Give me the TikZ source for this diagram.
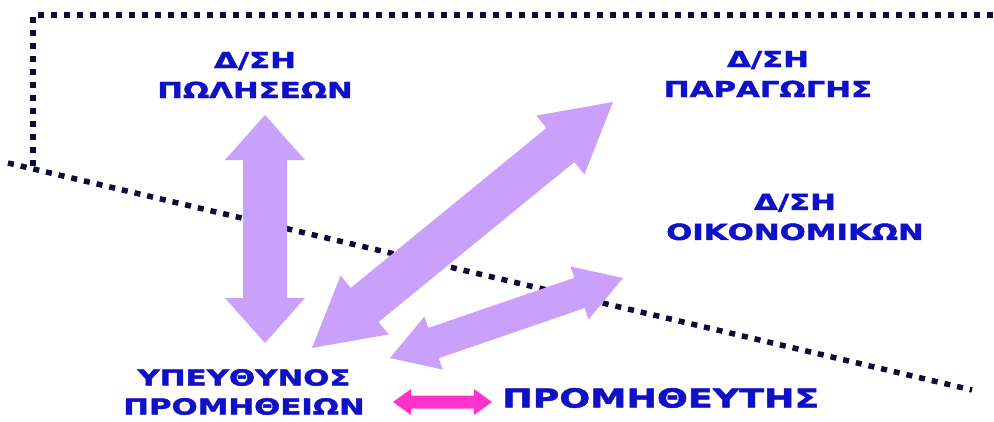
\documentclass[tikz,border=0pt]{standalone}
\usepackage{fontspec}
\setmainfont{DejaVu Sans}[FakeStretch=1.4, FakeBold=2]
\usetikzlibrary{calc}
\definecolor{lav}{RGB}{201,160,250}
\definecolor{pinkarr}{RGB}{255,51,204}
\definecolor{txtblue}{RGB}{16,16,200}
\definecolor{navy}{RGB}{12,12,56}
% #1 style, #2 tip A, #3 tip B, #4 head length, #5 head half width, #6 shaft half width
\newcommand\dblarr[6]{%
  \coordinate (pa) at ($(#2)!#4!(#3)$);
  \coordinate (pb) at ($(#3)!#4!(#2)$);
  \fill[#1] (#2) -- ($(pa)!#5!90:(#3)$) -- ($(pa)!#6!90:(#3)$)
    -- ($(pb)!#6!-90:(#2)$) -- ($(pb)!#5!-90:(#2)$) -- (#3)
    -- ($(pb)!#5!90:(#2)$) -- ($(pb)!#6!90:(#2)$)
    -- ($(pa)!#6!-90:(#3)$) -- ($(pa)!#5!-90:(#3)$) -- cycle;
}
\begin{document}
\begin{tikzpicture}[x=1pt,y=-1pt,
  lbl/.style={inner sep=0pt, align=center, text=txtblue,
    font=\bfseries\fontsize{22}{30}\selectfont},
  mgr/.style={lbl, font=\bfseries\fontsize{22}{29}\selectfont},
  sup/.style={lbl, font=\bfseries\fontsize{26}{30}\selectfont},
  dots/.style={draw=navy, line width=5.5pt, dash pattern=on 6pt off 7pt},
  lavarr/.style={fill=lav},
  pinkfill/.style={fill=pinkarr}
]
\useasboundingbox (0,0) rectangle (994,421);
\fill[white] (0,0) rectangle (994,421);

% dotted boundary lines
\coordinate (c1) at (33,15);
\coordinate (c2) at (993,15);
\coordinate (c3) at (33,166);
\coordinate (d1) at (8,163);
\coordinate (d2) at (972,390);
\draw[dots] (c2) -- (c1) -- (c3);
\draw[dots] (d1) -- (d2);

% arrow end points
\coordinate (v1) at (265,115);
\coordinate (v2) at (265,343);
\coordinate (p1) at (613,102);
\coordinate (p2) at (312,348);
\coordinate (f1) at (623,278);
\coordinate (f2) at (390,358);
\coordinate (s1) at (393,402);
\coordinate (s2) at (492,402);

\dblarr{lavarr}{v1}{v2}{45pt}{40pt}{22pt}
\dblarr{lavarr}{p1}{p2}{68pt}{38pt}{22pt}
\dblarr{lavarr}{f1}{f2}{46pt}{28pt}{16pt}
\dblarr{pinkfill}{s1}{s2}{18pt}{13pt}{6.5pt}

% labels
\node[lbl] (sales) at (255,75) {Δ/ΣΗ\\ΠΩΛΗΣΕΩΝ};
\node[lbl] (prod) at (768,74) {Δ/ΣΗ\\ΠΑΡΑΓΩΓΗΣ};
\node[lbl] (fin) at (795,217) {Δ/ΣΗ\\ΟΙΚΟΝΟΜΙΚΩΝ};
\node[mgr] (mgr) at (244,392) {ΥΠΕΥΘΥΝΟΣ\\ΠΡΟΜΗΘΕΙΩΝ};
\node[sup, anchor=west] (supp) at (502,398) {ΠΡΟΜΗΘΕΥΤΗΣ};
\end{tikzpicture}
\end{document}
